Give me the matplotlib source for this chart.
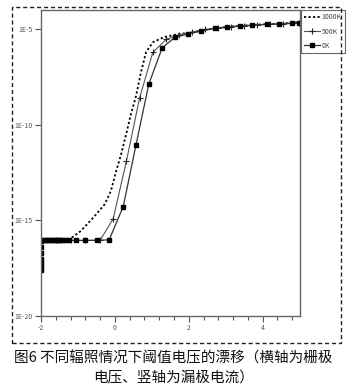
import matplotlib.pyplot as plt
from matplotlib.patches import Rectangle
from matplotlib.ticker import FixedLocator, NullLocator
import numpy as np

plt.rcParams['font.family'] = ['Noto Sans CJK SC', 'DejaVu Sans']

# gate voltage (V) / drain current (A), log10 of the current stored
vg_0k = [-2.0, -2.0, -2.0, -2.0, -2.0, -2.0, -2.0, -1.95, -1.9, -1.85, -1.8, -1.75,
         -1.7, -1.65, -1.6, -1.55, -1.5, -1.45, -1.41, -1.335, -1.245, -1.063,
         -0.81, -0.49, -0.155, 0.226, 0.572, 0.918, 1.281, 1.627, 1.975, 2.343,
         2.706, 3.038, 3.387, 3.725, 4.106, 4.433, 4.796, 4.986]
logi_0k = [-17.6, -17.43, -17.23, -17.0, -16.7, -16.4, -16.1, -16.05, -16.05, -16.05,
           -16.05, -16.05, -16.05, -16.05, -16.05, -16.05, -16.05, -16.05, -16.05,
           -16.05, -16.05, -16.05, -16.05, -16.04, -16.02, -14.28, -11.06, -7.88,
           -5.98, -5.43, -5.26, -5.10, -4.97, -4.91, -4.84, -4.81, -4.75, -4.74,
           -4.70, -4.67]

vg_500k = [-2.0, -1.6, -1.2, -0.8, -0.40, -0.046, 0.313, 0.667, 1.027, 1.39, 1.736,
           2.08, 2.45, 2.8, 3.15, 3.5, 3.85, 4.2, 4.55, 4.986]
logi_500k = [-16.05, -16.05, -16.05, -16.05, -16.04, -14.92, -11.90, -8.62, -6.22,
             -5.54, -5.31, -5.16, -5.02, -4.93, -4.87, -4.82, -4.78, -4.74, -4.71,
             -4.67]

vg_1000k = [-2.0, -1.253, -0.926, -0.572, -0.272, -0.109, 0.027, 0.163, 0.300, 0.436,
            0.572, 0.708, 0.845, 1.035, 1.335, 1.717, 2.071, 2.343, 2.706, 3.038,
            3.387, 3.725, 4.106, 4.433, 4.796, 4.986]
logi_1000k = [-16.05, -16.03, -15.56, -14.83, -14.15, -13.47, -12.48, -11.59, -10.54,
              -9.44, -8.50, -7.25, -6.20, -5.68, -5.42, -5.26, -5.18, -5.08, -4.96,
              -4.89, -4.83, -4.79, -4.74, -4.72, -4.68, -4.64]

fig = plt.figure(figsize=(3.47, 3.85), dpi=100)
ax = fig.add_axes([0.1182, 0.1792, 0.745, 0.795])

ax.plot(vg_1000k, 10.0 ** np.array(logi_1000k), color='black', lw=1.3,
        linestyle=(0, (1.2, 1.3)), label='1000K')
ax.plot(vg_500k, 10.0 ** np.array(logi_500k), color='#555555', lw=0.8,
        marker='+', ms=4, mew=0.8, mec='#222222', label='500K')
ax.plot(vg_0k, 10.0 ** np.array(logi_0k), color='#333333', lw=0.9,
        marker='s', ms=2.8, mfc='black', mec='black', label='0K')

ax.set_yscale('log')
ax.set_ylim(1e-20, 1e-4)
ax.set_xlim(-2, 5)

ax.yaxis.set_major_locator(FixedLocator([1e-20, 1e-15, 1e-10, 1e-5]))
ax.yaxis.set_minor_locator(NullLocator())
ax.set_yticklabels(['1E-20', '1E-15', '1E-10', '1E-5'])
ax.xaxis.set_major_locator(FixedLocator([-2, 0, 2, 4]))
ax.xaxis.set_minor_locator(FixedLocator(np.arange(-2, 5.01, 0.4)))
ax.set_xticklabels(['-2', '0', '2', '4'])

ax.tick_params(axis='both', which='major', labelsize=5, colors='#555555',
               labelcolor='#555555', length=4, width=0.8, pad=2)
ax.tick_params(axis='x', which='minor', length=3, width=0.8, colors='#555555')
for s in ax.spines.values():
    s.set_color('#666666')
    s.set_linewidth(1.0)

leg = ax.legend(loc='upper left', bbox_to_anchor=(1.005, 1.0), fontsize=5,
                frameon=True, fancybox=False, handlelength=2.2, handletextpad=0.3,
                borderpad=0.5, labelspacing=0.9, borderaxespad=0.0)
leg.get_frame().set_edgecolor('#444444')
leg.get_frame().set_linewidth(0.8)
for t in leg.get_texts():
    t.set_color('#444444')

# dashed frame round the chart
fig.patches.append(Rectangle((12 / 347, 1 - 343 / 385), 329 / 347, 336 / 385,
                             transform=fig.transFigure, fill=False,
                             edgecolor='#222222', lw=1.0, linestyle=(0, (3, 2))))

fig.text(0.5, 1 - 358 / 385, '图6 不同辐照情况下阈值电压的漂移（横轴为栅极',
         ha='center', va='center', fontsize=10.5, color='#111111')
fig.text(0.5, 1 - 378 / 385, '电压、竖轴为漏极电流）',
         ha='center', va='center', fontsize=10.5, color='#111111')

fig.savefig('out.png', dpi=100)
